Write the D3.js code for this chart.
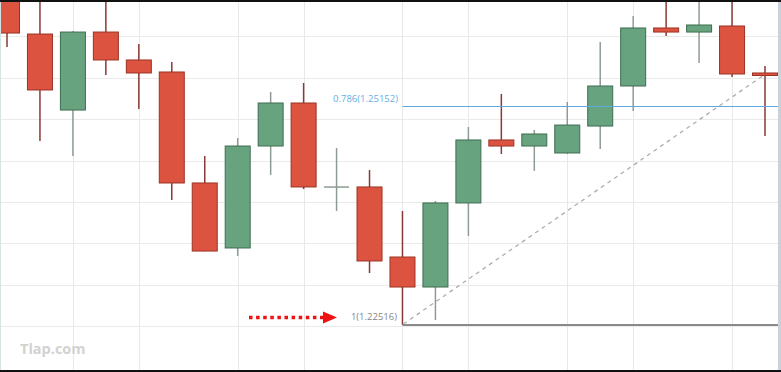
<!DOCTYPE html>
<html><head><meta charset="utf-8">
<script src="https://cdn.jsdelivr.net/npm/d3@7"></script>
<style>html,body{margin:0;padding:0;background:#fff;}svg{display:block;}</style>
</head><body>
<script>
const categories = ["1","2","3","4","5","6","7","8","9","10","11","12","13","14","15","16","17","18","19","20","21","22","23","24"];
const opens  = [1.26533,1.26026,1.25109,1.26050,1.25713,1.25568,1.24229,1.23445,1.24675,1.25194,1.24180,1.24181,1.23336,1.22974,1.23988,1.24748,1.24675,1.24591,1.24916,1.25399,1.26099,1.26050,1.26123,1.25556];
const highs  = [1.26678,1.26617,1.26062,1.26617,1.25906,1.25689,1.24554,1.24772,1.25327,1.25435,1.24651,1.24386,1.23891,1.24012,1.24904,1.25303,1.24868,1.25206,1.25930,1.26243,1.26617,1.26617,1.26617,1.25640];
const lows   = [1.25870,1.24735,1.24554,1.25532,1.25121,1.24024,1.23405,1.23348,1.24325,1.24156,1.23891,1.23143,1.22516,1.22576,1.23589,1.24579,1.24374,1.24579,1.24639,1.25097,1.26002,1.25676,1.25508,1.24796];
const closes = [1.26038,1.25351,1.26050,1.25713,1.25556,1.24229,1.23408,1.24675,1.25194,1.24181,1.24182,1.23288,1.22974,1.23988,1.24748,1.24675,1.24820,1.24928,1.25399,1.26099,1.26050,1.26135,1.25544,1.25526];
const priceTicks = [1.225,1.230,1.235,1.240,1.245,1.250,1.255,1.260];
const gridCandles = ["3","5","8","10","13","15","18","20","23"];
const fibLevels = [0.786, 1];
const fibPrices = [1.25152, 1.22516];
const fibLabels = ["0.786(1.25152)", "1(1.22516)"];
const trendStart = {cat:"13", price:1.22516};
const trendEnd = {cat:"24", price:1.25540};
const watermark = "Tlap.com";

const W = 781, H = 372;
const svg = d3.select("body").append("svg").attr("width", W).attr("height", H);

const x = d3.scalePoint().domain(categories).range([7, 765]);
const y = d3.scaleLinear().domain([1.225, 1.265]).range([326.3, -5.26]);

const plotRight = 778;
svg.append("defs").append("clipPath").attr("id","clip")
  .append("rect").attr("x",1).attr("y",2).attr("width",plotRight-1).attr("height",368);

const g = svg.append("g").attr("clip-path","url(#clip)");

// grid
g.selectAll(".hg").data(priceTicks).enter().append("line")
  .attr("x1",0).attr("x2",plotRight).attr("y1",d=>Math.round(y(d))+0.5).attr("y2",d=>Math.round(y(d))+0.5)
  .attr("stroke","#eaeaea").attr("stroke-width",1);
g.selectAll(".vg").data(gridCandles).enter().append("line")
  .attr("y1",0).attr("y2",H).attr("x1",d=>Math.round(x(d))+0.5).attr("x2",d=>Math.round(x(d))+0.5)
  .attr("stroke","#e8e8e8").attr("stroke-width",1);

// candles
const data = categories.map((c,i)=>({c, o:opens[i], h:highs[i], l:lows[i], cl:closes[i]}));
const bw = 25;
const isDoji = d => Math.abs(d.cl - d.o) < 0.00003;
const cg = g.selectAll(".candle").data(data).enter().append("g");
cg.append("line")
  .attr("x1",d=>x(d.c)).attr("x2",d=>x(d.c))
  .attr("y1",d=>y(d.h)).attr("y2",d=>y(d.l))
  .attr("stroke",d=>d.cl>=d.o ? "#8f9c94" : "#8a3a35").attr("stroke-width",1.5);
cg.append("rect")
  .attr("x",d=>x(d.c)-bw/2)
  .attr("width",bw)
  .attr("y",d=>isDoji(d) ? y(d.o)-0.75 : y(Math.max(d.o,d.cl)))
  .attr("height",d=>isDoji(d) ? 1.5 : Math.max(1.5, y(Math.min(d.o,d.cl))-y(Math.max(d.o,d.cl))))
  .attr("fill",d=>isDoji(d) ? "#8f9c94" : (d.cl>=d.o ? "#67a37f" : "#dc5440"))
  .attr("stroke",d=>isDoji(d) ? "none" : (d.cl>=d.o ? "#3f6d50" : "#9c3225"))
  .attr("stroke-width",1);

// fib lines
const fx0 = x(trendStart.cat);
g.append("line").attr("x1",fx0).attr("x2",plotRight)
  .attr("y1",y(fibPrices[0])).attr("y2",y(fibPrices[0]))
  .attr("stroke","#5fa9e0").attr("stroke-width",1.2);
g.append("line").attr("x1",fx0).attr("x2",plotRight)
  .attr("y1",y(fibPrices[1])).attr("y2",y(fibPrices[1]))
  .attr("stroke","#8a8a8a").attr("stroke-width",2);
// trend dashed
g.append("line").attr("x1",fx0+1).attr("y1",y(trendStart.price)-1)
  .attr("x2",x(trendEnd.cat)).attr("y2",y(trendEnd.price))
  .attr("stroke","#adadad").attr("stroke-width",1.3).attr("stroke-dasharray","4,4");

// labels
svg.append("text").attr("x",398).attr("y",y(fibPrices[0])-4)
  .attr("text-anchor","end").attr("font-family","Open Sans, sans-serif").attr("font-size",9.5)
  .attr("fill","#66aee3").text(fibLabels[0]);
svg.append("text").attr("x",397).attr("y",y(fibPrices[1])-4.5)
  .attr("text-anchor","end").attr("font-family","Open Sans, sans-serif").attr("font-size",9.5)
  .attr("fill","#858585").text(fibLabels[1]);

// red arrow
const ay = 317.5;
svg.append("line").attr("x1",249).attr("x2",323).attr("y1",ay).attr("y2",ay)
  .attr("stroke","#ee1111").attr("stroke-width",3.5).attr("stroke-dasharray","3.5,3.6");
svg.append("path").attr("d",`M323,${ay-6}L337,${ay}L323,${ay+6}Z`).attr("fill","#ee1111");

// watermark
svg.append("text").attr("x",20).attr("y",354).attr("font-family","Open Sans, sans-serif")
  .attr("font-weight","bold").attr("font-size",14.5).attr("fill","#d2d2d2").text(watermark);

// frame
svg.append("rect").attr("x",0).attr("y",0).attr("width",W).attr("height",2).attr("fill","#111");
svg.append("rect").attr("x",0).attr("y",370).attr("width",W).attr("height",2).attr("fill","#111");
svg.append("rect").attr("x",plotRight).attr("y",2).attr("width",W-plotRight).attr("height",368).attr("fill","#c9d1da");
svg.append("rect").attr("x",0).attr("y",2).attr("width",1).attr("height",368).attr("fill","#d3e4e4");
</script>
</body></html>
